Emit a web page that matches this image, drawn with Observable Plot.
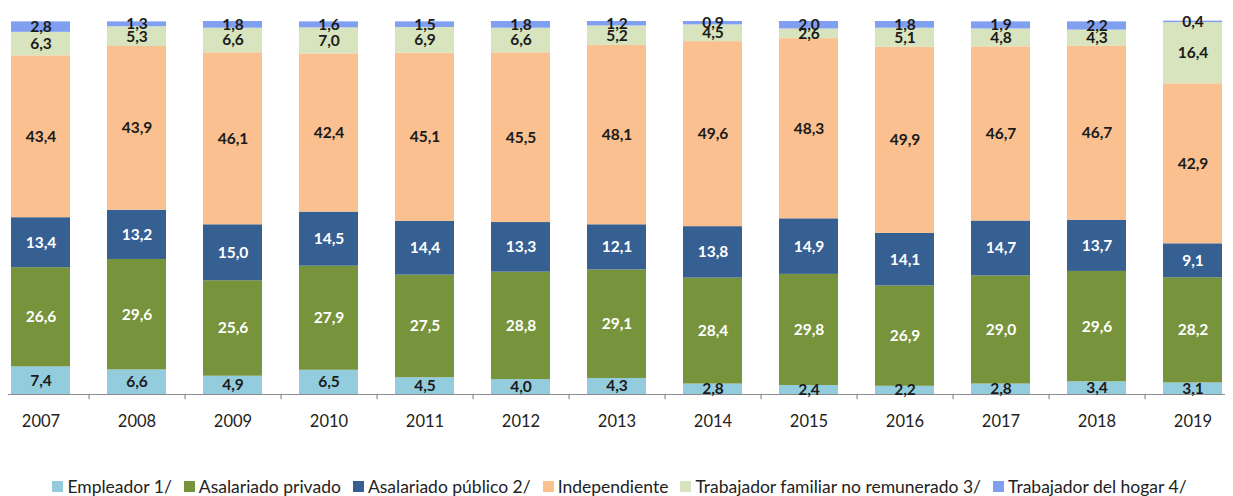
<!DOCTYPE html>
<html>
<head>
<meta charset="utf-8">
<script src="https://cdn.jsdelivr.net/npm/d3@7"></script>
<script src="https://cdn.jsdelivr.net/npm/@observablehq/plot@0.6"></script>
<style>
  html, body { margin: 0; padding: 0; background: #fff; }
  #chart svg { display: block; }
  #legend { display: flex; justify-content: center; align-items: center; gap: 12px;
    font-family: Lato, "Open Sans", sans-serif; font-size: 17.5px; color: #222; margin-top: 36px; padding-left: 6px; }
  .item { display: flex; align-items: center; gap: 4px; white-space: nowrap; }
  .sw { width: 11px; height: 11px; display: inline-block; }
</style>
</head>
<body>
<div id="chart"></div>
<div id="legend"></div>
<script>
const years = ["2007","2008","2009","2010","2011","2012","2013","2014","2015","2016","2017","2018","2019"];
const seriesNames = ["Empleador 1/", "Asalariado privado", "Asalariado público 2/", "Independiente", "Trabajador familiar no remunerado 3/", "Trabajador del hogar 4/"];
const colors = ["#93cddd", "#77933c", "#366092", "#fac090", "#d7e4bd", "#819ff0"];
const labelColors = ["#1a1a1a", "#ffffff", "#ffffff", "#1a1a1a", "#1a1a1a", "#1a1a1a"];

const empleador     = [7.4, 6.6, 4.9, 6.5, 4.5, 4.0, 4.3, 2.8, 2.4, 2.2, 2.8, 3.4, 3.1];
const asalPrivado   = [26.6, 29.6, 25.6, 27.9, 27.5, 28.8, 29.1, 28.4, 29.8, 26.9, 29.0, 29.6, 28.2];
const asalPublico   = [13.4, 13.2, 15.0, 14.5, 14.4, 13.3, 12.1, 13.8, 14.9, 14.1, 14.7, 13.7, 9.1];
const independiente = [43.4, 43.9, 46.1, 42.4, 45.1, 45.5, 48.1, 49.6, 48.3, 49.9, 46.7, 46.7, 42.9];
const familiar      = [6.3, 5.3, 6.6, 7.0, 6.9, 6.6, 5.2, 4.5, 2.6, 5.1, 4.8, 4.3, 16.4];
const hogar         = [2.8, 1.3, 1.8, 1.6, 1.5, 1.8, 1.2, 0.9, 2.0, 1.8, 1.9, 2.2, 0.4];

const seriesValues = [empleador, asalPrivado, asalPublico, independiente, familiar, hogar];
const data = [];
seriesNames.forEach((s, si) => {
  years.forEach((y, yi) => data.push({year: y, series: s, value: seriesValues[si][yi]}));
});
const fmt = v => v.toFixed(1).replace(".", ",");
const labelColor = new Map(seriesNames.map((s, i) => [s, labelColors[i]]));

const chart = Plot.plot({
  width: 1233,
  height: 440,
  marginLeft: 8,
  marginRight: 8,
  marginTop: 0,
  marginBottom: 46,
  style: {background: "#fff"},
  x: {type: "band", domain: years, range: [-9.1, 1242.2], paddingInner: 0.39, paddingOuter: 0.195, label: null},
  y: {domain: [0, 100], range: [394, 21], axis: null},
  color: {domain: seriesNames, range: colors},
  marks: [
    Plot.barY(data, Plot.stackY({x: "year", y: "value", fill: "series", order: seriesNames})),
    Plot.ruleY([0], {stroke: "#8c8c8c", strokeWidth: 1.2}),
    Plot.ruleX(years.slice(0, -1), {x: d => d, dx: 48.125, y1: 0, y2: -1.4, stroke: "#8c8c8c", strokeWidth: 1.2}),
    Plot.axisX({tickSize: 0, tickPadding: 21, fontSize: 16.5, fontFamily: "Lato, sans-serif", fill: "#222"}),
    Plot.text(data, Plot.stackY({
      x: "year", y: "value", z: "series", order: seriesNames,
      text: d => fmt(d.value),
      fill: d => labelColor.get(d.series),
      fontSize: 15.5, fontWeight: "bold", fontFamily: "Lato, sans-serif"
    }))
  ]
});
document.getElementById("chart").appendChild(chart);

const legend = document.getElementById("legend");
seriesNames.forEach((s, i) => {
  const it = document.createElement("div");
  it.className = "item";
  const sw = document.createElement("span");
  sw.className = "sw";
  sw.style.background = colors[i];
  const t = document.createElement("span");
  t.textContent = s;
  it.appendChild(sw); it.appendChild(t);
  legend.appendChild(it);
});
</script>
</body>
</html>
